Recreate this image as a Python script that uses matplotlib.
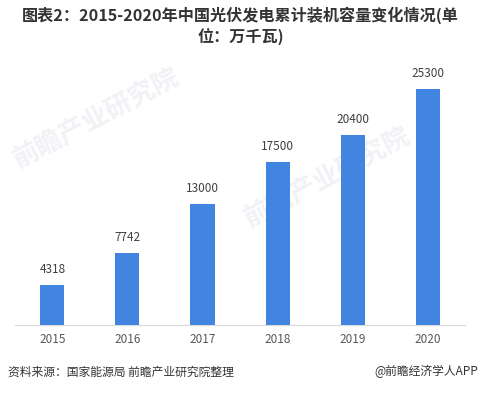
import matplotlib.pyplot as plt

plt.rcParams['font.family'] = ['Noto Sans CJK SC', 'DejaVu Sans']

years = ['2015', '2016', '2017', '2018', '2019', '2020']
capacity = [4318, 7742, 13000, 17500, 20400, 25300]

fig = plt.figure(figsize=(4.81, 3.94), dpi=100)
ax = fig.add_axes([0.031, 0.175, 0.936, 0.673])

x = range(len(years))
ax.bar(x, capacity, width=0.32, color='#4285e0', zorder=3)
for i, v in zip(x, capacity):
    ax.text(i, v + 900, str(v), ha='center', va='bottom', fontsize=8.5, color='#404040', zorder=4)

ax.set_xlim(-0.5, len(years) - 0.5)
ax.set_ylim(0, 28400)
ax.set_xticks(list(x))
ax.set_xticklabels(years, fontsize=8.5, color='#595959')
ax.tick_params(axis='x', length=0, pad=6)
ax.set_yticks([])
for s in ['top', 'right', 'left']:
    ax.spines[s].set_visible(False)
ax.spines['bottom'].set_color('#d9d9d9')

# faint watermarks, behind the bars
for wx, wy in [(0.2, 0.70), (0.68, 0.55)]:
    ax.text(wx, wy, '前瞻产业研究院', transform=fig.transFigure, fontsize=19,
            color='#f1f2f6', rotation=28, ha='center', va='center',
            fontweight='bold', zorder=1, clip_on=False)

fig.text(0.5, 0.962, '图表2：2015-2020年中国光伏发电累计装机容量变化情况(单',
         ha='center', va='center', fontsize=11.6, fontweight='bold', color='#333333')
fig.text(0.5, 0.905, '位：万千瓦)',
         ha='center', va='center', fontsize=11.6, fontweight='bold', color='#333333')

fig.text(0.016, 0.056, '资料来源：国家能源局 前瞻产业研究院整理', ha='left', va='center',
         fontsize=8.5, color='#333333')
fig.text(0.994, 0.056, '@前瞻经济学人APP', ha='right', va='center',
         fontsize=8.5, color='#333333')

fig.savefig('out.png', dpi=100)
